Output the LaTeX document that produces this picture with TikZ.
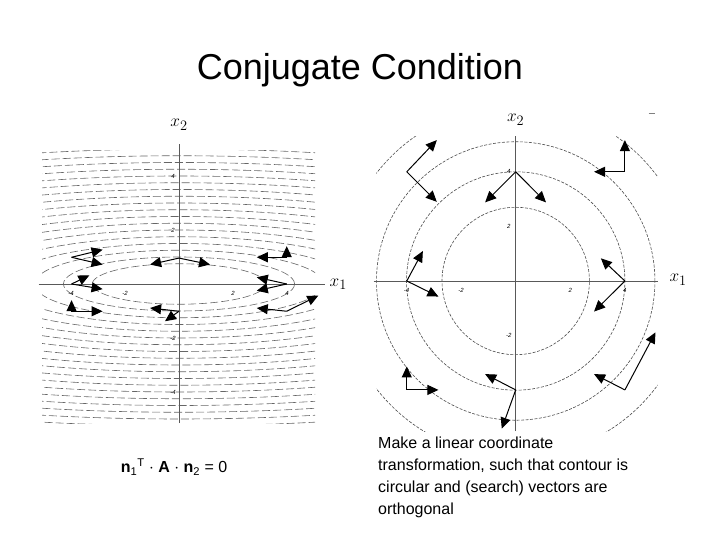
\documentclass[tikz,border=0pt]{standalone}
\usepackage{fontspec}
\setmainfont{Liberation Sans}
\usetikzlibrary{arrows.meta}
\begin{document}
\begin{tikzpicture}[x=1pt,y=1pt,
  vec/.style={line width=1pt,-{Triangle[length=11pt,width=10pt]}},
  cont/.style={gray!80!black,line width=0.6pt,dash pattern=on 8pt off 3pt},
  circ/.style={gray!60!black,line width=0.6pt,dash pattern=on 3pt off 1.5pt},
  ax/.style={gray!70!black,line width=0.5pt},
  tick/.style={font=\fontsize{6}{6}\selectfont\itshape,inner sep=1pt},
  axl/.style={font=\fontsize{19}{19}\selectfont}]
\useasboundingbox (0,0) rectangle (720,540);
\node (title) at (360,470) {\fontsize{36}{40}\selectfont Conjugate Condition};
% ---------- left plot ----------
\begin{scope}[shift={(179,256)},x=27pt,y=27pt]
  \begin{scope}
    \clip (-5.07,-5.15) rectangle (5.04,4.96);
    \foreach \n in {3,...,22} {
      \draw[cont] (0,0) ellipse [x radius={1.07*\n}, y radius={0.25*\n}];
    }
  \end{scope}
  \draw[ax] (-5.2,0) -- (5.4,0);
  \draw[ax] (0,-5.15) -- (0,5.2);
  \foreach \t/\l in {-4/-4,-2/-2,2/2,4/4} {
    \node[tick] (lx\t) at (\t,-0.35) {\l};
    \node[tick] (ly\t) at (-0.22,\t) {\l};
  }
  \node[axl] (lx1) at (5.9,0) {$x_1$};
  \node[axl] (lx2) at (0,5.9) {$x_2$};
  \foreach \bx/\by/\ax/\ay/\cx/\cy in {
      0/0.96/-1.07/0.72/1.15/0.72,
      0/-1.01/-1.07/-0.89/-0.52/-1.38,
      -3.98/0.99/-2.83/1.27/-2.83/0.72,
      -3.98/0/-3.32/0.32/-2.83/-0.19,
      -3.98/-1.01/-3.98/-0.6/-2.83/-1.01,
      3.99/0.99/2.88/0.99/3.99/1.4,
      3.99/0/2.88/0.25/2.88/-0.25,
      3.99/-1.01/2.88/-0.89/5.16/-0.43} {
    \coordinate (b) at (\bx,\by);
    \coordinate (p) at (\ax,\ay);
    \coordinate (q) at (\cx,\cy);
    \draw[vec] (b) -- (p);
    \draw[vec] (b) -- (q);
  }
\end{scope}
% ---------- right plot ----------
\begin{scope}[shift={(515.7,259)},x=27.3pt,y=27.3pt]
  \begin{scope}
    \clip (-5.1,-5.5) rectangle (5.2,5.3);
    \foreach \r in {2.7,4,5.1,6.45} {
      \draw[circ] (0,0) circle [radius=\r];
    }
  \end{scope}
  \draw[ax] (-5.2,0) -- (5.2,0);
  \draw[ax] (0,-5.5) -- (0,5.3);
  \foreach \t/\l in {-4/-4,-2/-2,2/2,4/4} {
    \node[tick] (rx\t) at (\t,-0.33) {\l};
  }
  \foreach \t/\l in {-2/-2,2/2,4/4} {
    \node[tick] (ry\t) at (-0.25,\t) {\l};
  }
  \node[axl] (rx1) at (5.95,0.05) {$x_1$};
  \node[axl] (rx2) at (0,5.9) {$x_2$};
  \draw[gray,line width=0.6pt] (4.87,6.15) -- (5.1,6.15);
  \foreach \bx/\by/\ax/\ay/\cx/\cy in {
      0/4/-1.12/2.88/1.11/2.88,
      -3.99/4/-2.89/5.16/-2.89/2.9,
      4/4/4/5.16/2.87/4,
      -3.99/0/-3.4/1.1/-2.83/-0.57,
      4/0/3.12/0.83/2.87/-1.12,
      0/-3.99/-1.12/-3.41/-0.51/-5.41,
      -3.99/-3.99/-3.99/-3.13/-2.83/-3.99,
      4/-3.99/2.87/-3.41/5.12/-1.88} {
    \coordinate (b) at (\bx,\by);
    \coordinate (p) at (\ax,\ay);
    \coordinate (q) at (\cx,\cy);
    \draw[vec] (b) -- (p);
    \draw[vec] (b) -- (q);
  }
\end{scope}
% ---------- texts ----------
\node[font=\fontsize{16}{19}\selectfont] (eq) at (174,73) {\textbf{n}\textsubscript{1}\textsuperscript{T} $\cdot$ \textbf{A} $\cdot$ \textbf{n}\textsubscript{2} = 0};
\node[anchor=north west,align=left,inner sep=0pt,font=\fontsize{16}{22}\selectfont] (txt) at (378,103)
  {Make a linear coordinate\\transformation, such that contour is\\circular and (search) vectors are\\orthogonal};
\end{tikzpicture}
\end{document}
